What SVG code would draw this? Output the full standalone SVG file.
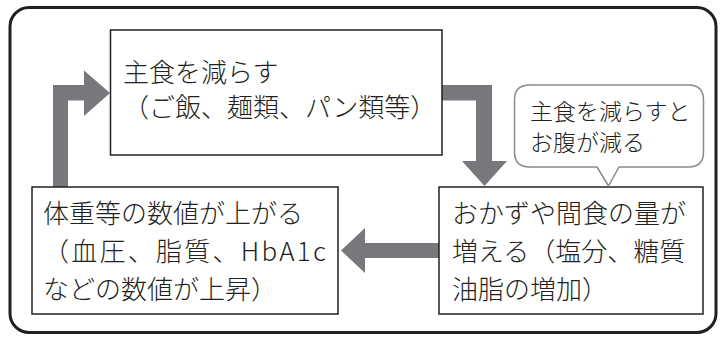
<svg xmlns="http://www.w3.org/2000/svg" width="721" height="338" viewBox="0 0 721 338">
<style>
.frame{fill:#fff;stroke:#231f20;stroke-width:3}
.box{fill:#fff;stroke:#231f20;stroke-width:1.5}
.arrow{fill:#77787b;stroke:none}
.bubble{fill:#fff;stroke:#8a8a8a;stroke-width:1.5;stroke-linejoin:round}
.t{font-family:"Noto Sans CJK JP","Noto Sans",sans-serif;font-size:26px;font-weight:300;fill:#231f20}
.b{font-family:"Noto Sans CJK JP","Noto Sans",sans-serif;font-size:23px;font-weight:300;fill:#231f20}
</style>
<rect class="frame" x="10" y="7.5" width="706" height="325" rx="19" ry="19"/>
<g id="connectors">
<path class="arrow" d="M53,187 L53,85 L84,85 L84,70.5 L110,93 L84,116 L84,100.5 L68,100.5 L68,187 Z"/>
<path class="arrow" d="M442,85 L492,85 L492,161 L507,161 L484.5,186 L462,161 L476,161 L476,100.5 L442,100.5 Z"/>
<path class="arrow" d="M439,243 L365,243 L365,228 L341,250.5 L365,273 L365,258 L439,258 Z"/>
</g>
<g id="node-reduce-staple">
<rect class="box" x="110.5" y="30" width="331.5" height="125"/>
<text class="t" x="123" y="82" font-size="25.5">主食を減らす</text>
<text class="t" x="123" y="117" font-size="25.5">（ご飯、麺類、パン類等）</text>
</g>
<g id="node-values-rise">
<rect class="box" x="32" y="187" width="306" height="127"/>
<text class="t" x="43" y="223">体重等の数値が上がる</text>
<text class="t" x="43" y="261" textLength="283" lengthAdjust="spacing">（血圧、脂質、HbA1c</text>
<text class="t" x="43" y="299">などの数値が上昇）</text>
</g>
<g id="node-side-dishes">
<rect class="box" x="439" y="187" width="264" height="127"/>
<text class="t" x="452" y="223">おかずや間食の量が</text>
<text class="t" x="452" y="261">増える（塩分、糖質</text>
<text class="t" x="452" y="299">油脂の増加）</text>
</g>
<g id="bubble">
<path class="bubble" d="M529.5,85 L688.5,85 Q703.5,85 703.5,100 L703.5,152 Q703.5,167 688.5,167 L619,167 L608.5,186 L597,167 L529.5,167 Q514.5,167 514.5,152 L514.5,100 Q514.5,85 529.5,85 Z"/>
<text class="b" x="530" y="120">主食を減らすと</text>
<text class="b" x="530" y="151">お腹が減る</text>
</g>
</svg>
